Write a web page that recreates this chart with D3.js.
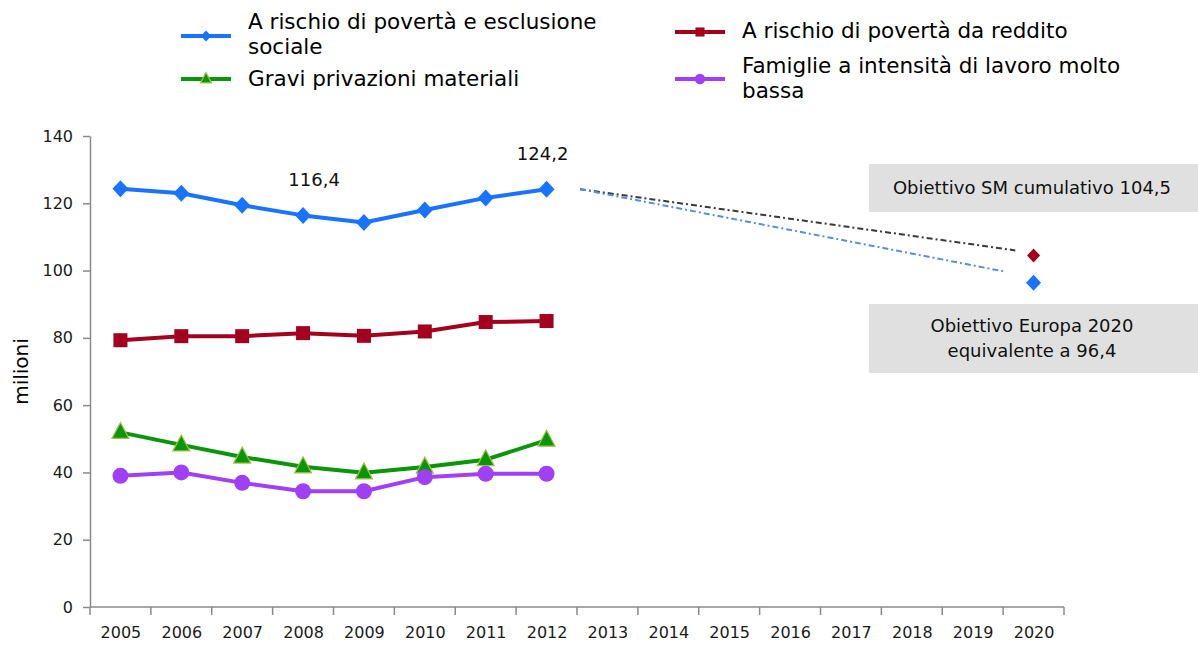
<!DOCTYPE html>
<html lang="it">
<head>
<meta charset="utf-8">
<script src="https://cdn.jsdelivr.net/npm/d3@7"></script>
<style>
  html, body { margin: 0; padding: 0; background: #ffffff; }
  svg { display: block; font-family: "DejaVu Sans", Verdana, sans-serif; }
</style>
</head>
<body>
<svg id="chart" width="1198" height="646"></svg>
<script>
// Anni sull'asse orizzontale
const years = [2005, 2006, 2007, 2008, 2009, 2010, 2011, 2012, 2013, 2014, 2015, 2016, 2017, 2018, 2019, 2020];
const dataYears = [2005, 2006, 2007, 2008, 2009, 2010, 2011, 2012];

// Serie storiche (milioni di persone)
const rischioEsclusione = [124.3, 123.0, 119.4, 116.4, 114.3, 118.0, 121.6, 124.2];
const rischioReddito    = [79.3, 80.5, 80.5, 81.4, 80.6, 81.9, 84.7, 85.0];
const graviPrivazioni   = [51.9, 48.2, 44.6, 41.7, 39.9, 41.6, 43.8, 49.6];
const bassaIntensita    = [39.0, 40.0, 36.9, 34.4, 34.4, 38.6, 39.6, 39.6];

// Obiettivi 2020
const targetYear = 2020;
const obiettivoSM = 104.5;
const obiettivoEuropa = 96.4;

// Traiettorie verso gli obiettivi: [anno, valore]
const trajSM     = [[2012.55, 124.2], [2019.7, 106.0]];
const trajEuropa = [[2012.55, 124.2], [2019.5, 99.8]];

// Valori evidenziati sul grafico
const annotations = [[2008, 116.4, "116,4", 11], [2012, 124.2, "124,2", -4]];

const yTicks = [0, 20, 40, 60, 80, 100, 120, 140];

const svg = d3.select("#chart");

const x = d3.scaleLinear().domain([2004.5, 2020.5]).range([90, 1064]);
const y = d3.scaleLinear().domain([0, 140]).range([607, 136]);

const axisColor = "#8a8a8a";
const textColor = "#1b1b1b";

// Asse Y
const yAxis = svg.append("g")
  .attr("transform", `translate(${x(2004.5)},0)`)
  .call(d3.axisLeft(y).tickValues(yTicks).tickSize(7).tickPadding(10).tickSizeOuter(0));
yAxis.select(".domain").attr("stroke", axisColor).attr("stroke-width", 1.5);
yAxis.selectAll(".tick line").attr("stroke", axisColor).attr("stroke-width", 1.5);
yAxis.selectAll(".tick text")
  .attr("font-size", 16).attr("font-family", "DejaVu Sans, sans-serif").attr("fill", textColor);

// Asse X: linea base, tacche ai confini degli anni ed etichette
const boundaries = d3.range(2004.5, 2021, 1);
svg.append("line")
  .attr("x1", x(2004.5)).attr("x2", x(2020.5))
  .attr("y1", y(0)).attr("y2", y(0))
  .attr("stroke", axisColor).attr("stroke-width", 1.5);
svg.append("g").selectAll("line").data(boundaries).join("line")
  .attr("x1", d => x(d)).attr("x2", d => x(d))
  .attr("y1", y(0)).attr("y2", y(0) + 8)
  .attr("stroke", axisColor).attr("stroke-width", 1.5);

const xAxis = svg.append("g")
  .attr("transform", `translate(0,${y(0)})`)
  .call(d3.axisBottom(x).tickValues(years).tickFormat(d3.format("d")).tickSize(0).tickPadding(20));
xAxis.select(".domain").remove();
xAxis.selectAll(".tick text")
  .attr("font-size", 16).attr("font-family", "DejaVu Sans, sans-serif").attr("fill", textColor);

// Titolo asse Y
svg.append("text")
  .attr("transform", `translate(28,${y(70)}) rotate(-90)`)
  .attr("text-anchor", "middle")
  .attr("font-size", 20)
  .attr("fill", "#000")
  .text("milioni");

// Simboli dei marcatori
function diamondPath(w, h) {
  return `M0,${-h}L${w},0L0,${h}L${-w},0Z`;
}
function trianglePath(w, h) {
  return `M0,${-h * 0.62}L${w},${h * 0.38}L${-w},${h * 0.38}Z`;
}

const series = [
  { values: rischioEsclusione, color: "#1a73ff", marker: "diamond" },
  { values: rischioReddito,    color: "#a3001f", marker: "square" },
  { values: graviPrivazioni,   color: "#0a960a", marker: "triangle" },
  { values: bassaIntensita,    color: "#a040f5", marker: "circle" }
];

function drawMarker(g, type, color, scale) {
  const s = scale || 1;
  if (type === "diamond") {
    g.append("path").attr("d", diamondPath(8 * s, 8.5 * s)).attr("fill", color);
  } else if (type === "square") {
    g.append("rect").attr("x", -7 * s).attr("y", -7 * s).attr("width", 14 * s).attr("height", 14 * s).attr("fill", color);
  } else if (type === "triangle") {
    g.append("path").attr("d", trianglePath(8.5 * s, 16 * s)).attr("fill", color)
      .attr("stroke", "#a6bf4b").attr("stroke-width", 1.2);
  } else if (type === "circle") {
    g.append("circle").attr("r", 8 * s).attr("fill", color);
  }
}

const line = d3.line().x((d, i) => x(dataYears[i])).y(d => y(d));

series.forEach(s => {
  svg.append("path")
    .datum(s.values)
    .attr("d", line)
    .attr("fill", "none")
    .attr("stroke", s.color)
    .attr("stroke-width", 4)
    .attr("stroke-linejoin", "round");
  s.values.forEach((v, i) => {
    const g = svg.append("g").attr("transform", `translate(${x(dataYears[i])},${y(v)})`);
    drawMarker(g, s.marker, s.color, 1);
  });
});

// Traiettorie tratto-punto verso gli obiettivi
const trajLine = d3.line().x(d => x(d[0])).y(d => y(d[1]));
svg.append("path").datum(trajSM).attr("d", trajLine)
  .attr("fill", "none").attr("stroke", "#3a3a3a").attr("stroke-width", 2)
  .attr("stroke-dasharray", "6,3,2,3");
svg.append("path").datum(trajEuropa).attr("d", trajLine)
  .attr("fill", "none").attr("stroke", "#5a8fd6").attr("stroke-width", 2)
  .attr("stroke-dasharray", "6,3,2,3");

// Punti obiettivo 2020
svg.append("path").attr("d", diamondPath(6.5, 7))
  .attr("transform", `translate(${x(targetYear)},${y(obiettivoSM)})`)
  .attr("fill", "#a3001f");
svg.append("path").attr("d", diamondPath(7.5, 8))
  .attr("transform", `translate(${x(targetYear)},${y(obiettivoEuropa)})`)
  .attr("fill", "#1a73ff");

// Riquadri descrittivi degli obiettivi
const boxes = [
  { top: 164, h: 48, lines: ["Obiettivo SM cumulativo 104,5"] },
  { top: 304, h: 69, lines: ["Obiettivo Europa 2020", "equivalente a 96,4"] }
];
boxes.forEach(b => {
  svg.append("rect").attr("x", 869).attr("y", b.top).attr("width", 329).attr("height", b.h)
    .attr("fill", "#e0e0e0");
  const t = svg.append("text").attr("text-anchor", "middle").attr("font-size", 18).attr("fill", "#111");
  b.lines.forEach((l, i) => {
    t.append("tspan").attr("x", 1032)
      .attr("y", b.top + b.h / 2 + 6 + (i - (b.lines.length - 1) / 2) * 25)
      .text(l);
  });
});

// Etichette dei valori evidenziati
annotations.forEach(([yr, v, label, dx]) => {
  svg.append("text")
    .attr("x", x(yr) + dx).attr("y", y(v) - 29)
    .attr("text-anchor", "middle").attr("font-size", 18).attr("fill", "#111")
    .text(label);
});

// Legenda
const legend = [
  { x: 181, y: 36, marker: "diamond", color: "#1a73ff", lines: ["A rischio di povertà e esclusione", "sociale"], ty: 22 },
  { x: 181, y: 79, marker: "triangle", color: "#0a960a", lines: ["Gravi privazioni materiali"], ty: 79 },
  { x: 675, y: 32, marker: "square", color: "#a3001f", lines: ["A rischio di povertà da reddito"], ty: 31 },
  { x: 675, y: 79, marker: "circle", color: "#a040f5", lines: ["Famiglie a intensità di lavoro molto", "bassa"], ty: 66 }
];
legend.forEach(item => {
  svg.append("line").attr("x1", item.x).attr("x2", item.x + 50)
    .attr("y1", item.y).attr("y2", item.y)
    .attr("stroke", item.color).attr("stroke-width", 4);
  const g = svg.append("g").attr("transform", `translate(${item.x + 25},${item.y})`);
  drawMarker(g, item.marker, item.color, 0.65);
  const t = svg.append("text").attr("font-size", 21.5).attr("fill", "#000");
  item.lines.forEach((l, i) => {
    t.append("tspan").attr("x", item.x + 67).attr("y", item.ty + 7 + i * 25).text(l);
  });
});
</script>
</body>
</html>
